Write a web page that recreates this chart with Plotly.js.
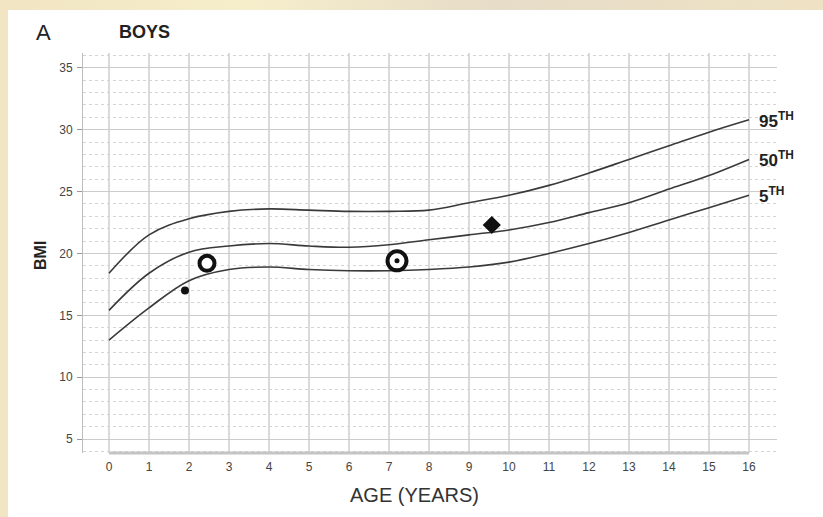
<!DOCTYPE html>
<html>
<head>
<meta charset="utf-8">
<script src="https://cdn.plot.ly/plotly-3.0.1.min.js"></script>
<style>
  html, body { margin: 0; padding: 0; width: 823px; height: 517px; overflow: hidden; }
  body { background: linear-gradient(90deg, #f1e4c2 0%, #f6eecb 30%, #e6dcc8 60%, #efe2c4 100%); position: relative; }
  #chart { position: absolute; left: 8px; top: 10px; width: 815px; height: 507px; background: #fff; }
</style>
</head>
<body>
<div id="chart"></div>
<script>
const ages = [0, 1, 2, 3, 4, 5, 6, 7, 8, 9, 10, 11, 12, 13, 14, 15, 16];
const p95 = [18.4, 21.5, 22.8, 23.4, 23.6, 23.5, 23.4, 23.4, 23.5, 24.1, 24.7, 25.5, 26.5, 27.6, 28.7, 29.8, 30.8];
const p50 = [15.4, 18.4, 20.1, 20.6, 20.8, 20.6, 20.5, 20.7, 21.1, 21.5, 21.9, 22.5, 23.3, 24.1, 25.2, 26.3, 27.6];
const p5  = [13.0, 15.6, 17.8, 18.7, 18.9, 18.7, 18.6, 18.6, 18.7, 18.9, 19.3, 20.0, 20.8, 21.7, 22.7, 23.7, 24.7];
const curveLabels = ['95', '50', '5'];

const dotAge = [1.9],  dotBmi = [17.0];
const ringAge = [2.45], ringBmi = [19.2];
const eyeAge = [7.2],  eyeBmi = [19.4];
const diaAge = [9.57], diaBmi = [22.3];

const xTicks = ages;
const yTicks = [5, 10, 15, 20, 25, 30, 35];

const lineStyle = {color: '#3a3a3a', width: 1.6, shape: 'spline', smoothing: 1};
const traces = [
  {x: ages, y: p95, mode: 'lines', line: lineStyle, name: '95th', hoverinfo: 'skip'},
  {x: ages, y: p50, mode: 'lines', line: lineStyle, name: '50th', hoverinfo: 'skip'},
  {x: ages, y: p5,  mode: 'lines', line: lineStyle, name: '5th', hoverinfo: 'skip'},
  {x: dotAge, y: dotBmi, mode: 'markers', marker: {symbol: 'circle', size: 8, color: '#111'}},
  {x: ringAge, y: ringBmi, mode: 'markers', marker: {symbol: 'circle', size: 15, color: '#fff', line: {color: '#111', width: 4}}},
  {x: eyeAge, y: eyeBmi, mode: 'markers', marker: {symbol: 'circle', size: 19, color: '#fff', line: {color: '#111', width: 4}}},
  {x: eyeAge, y: eyeBmi, mode: 'markers', marker: {symbol: 'circle', size: 5, color: '#111'}},
  {x: diaAge, y: diaBmi, mode: 'markers', marker: {symbol: 'diamond', size: 14, color: '#111'}}
];

const font = 'Liberation Sans, Arial, sans-serif';
const ann = (text, x, y, size, extra) => Object.assign({text: text, xref: 'paper', yref: 'paper', x: x, y: y,
  xanchor: 'center', yanchor: 'middle', showarrow: false, font: {family: font, size: size, color: '#222'}}, extra || {});
const annotations = [
  ann('A', -0.0576, 1.0525, 22),
  ann('<b>BOYS</b>', 0.0893, 1.0525, 18),
  ann('<b>BMI</b>', -0.062, 0.495, 16, {textangle: -90}),
  ann('AGE (YEARS)', 0.478, -0.105, 20, {font: {family: font, size: 20, color: '#333'}})
];
const ends = [p95[16], p50[16], p5[16]];
curveLabels.forEach((c, i) => {
  annotations.push({text: '<b>' + c + '<sup>TH</sup></b>', x: 16, y: ends[i], xanchor: 'left', yanchor: 'middle', xshift: 8, yshift: 0,
    showarrow: false, font: {family: font, size: 17, color: '#222'}});
});

const layout = {
  width: 815, height: 507,
  margin: {l: 75, r: 46, t: 43, b: 64},
  paper_bgcolor: '#fff', plot_bgcolor: '#fff',
  showlegend: false,
  xaxis: {
    range: [-0.65, 16.7], tickvals: xTicks, ticktext: xTicks.map(String),
    showgrid: false, zeroline: false, showline: false, ticks: '',
    tickfont: {family: font, size: 12, color: '#444'}, ticklabelstandoff: 5
  },
  yaxis: {
    range: [3.87, 36.2], tickvals: yTicks, ticktext: yTicks.map(String),
    showgrid: true, gridcolor: '#cccccc', gridwidth: 1,
    minor: {dtick: 1, tick0: 0, showgrid: true, gridcolor: '#d4d4d4', griddash: 'dot', gridwidth: 1},
    zeroline: false, showline: true, linecolor: '#bdbdbd', linewidth: 1,
    ticks: 'outside', ticklen: 5, tickcolor: '#999',
    tickfont: {family: font, size: 12, color: '#444'}, ticklabelstandoff: 2
  },
  shapes: [].concat(
    xTicks.map(a => ({type: 'line', xref: 'x', yref: 'paper', x0: a, x1: a, y0: 0, y1: 1, layer: 'below', line: {color: '#b5b5b5', width: 1}})),
    [{type: 'line', xref: 'x', yref: 'paper', x0: 0, x1: 16, y0: 0, y1: 0, line: {color: '#c4c4c4', width: 3}}]
  ),
  annotations: annotations
};

Plotly.newPlot('chart', traces, layout, {displayModeBar: false, staticPlot: true});
</script>
</body>
</html>
